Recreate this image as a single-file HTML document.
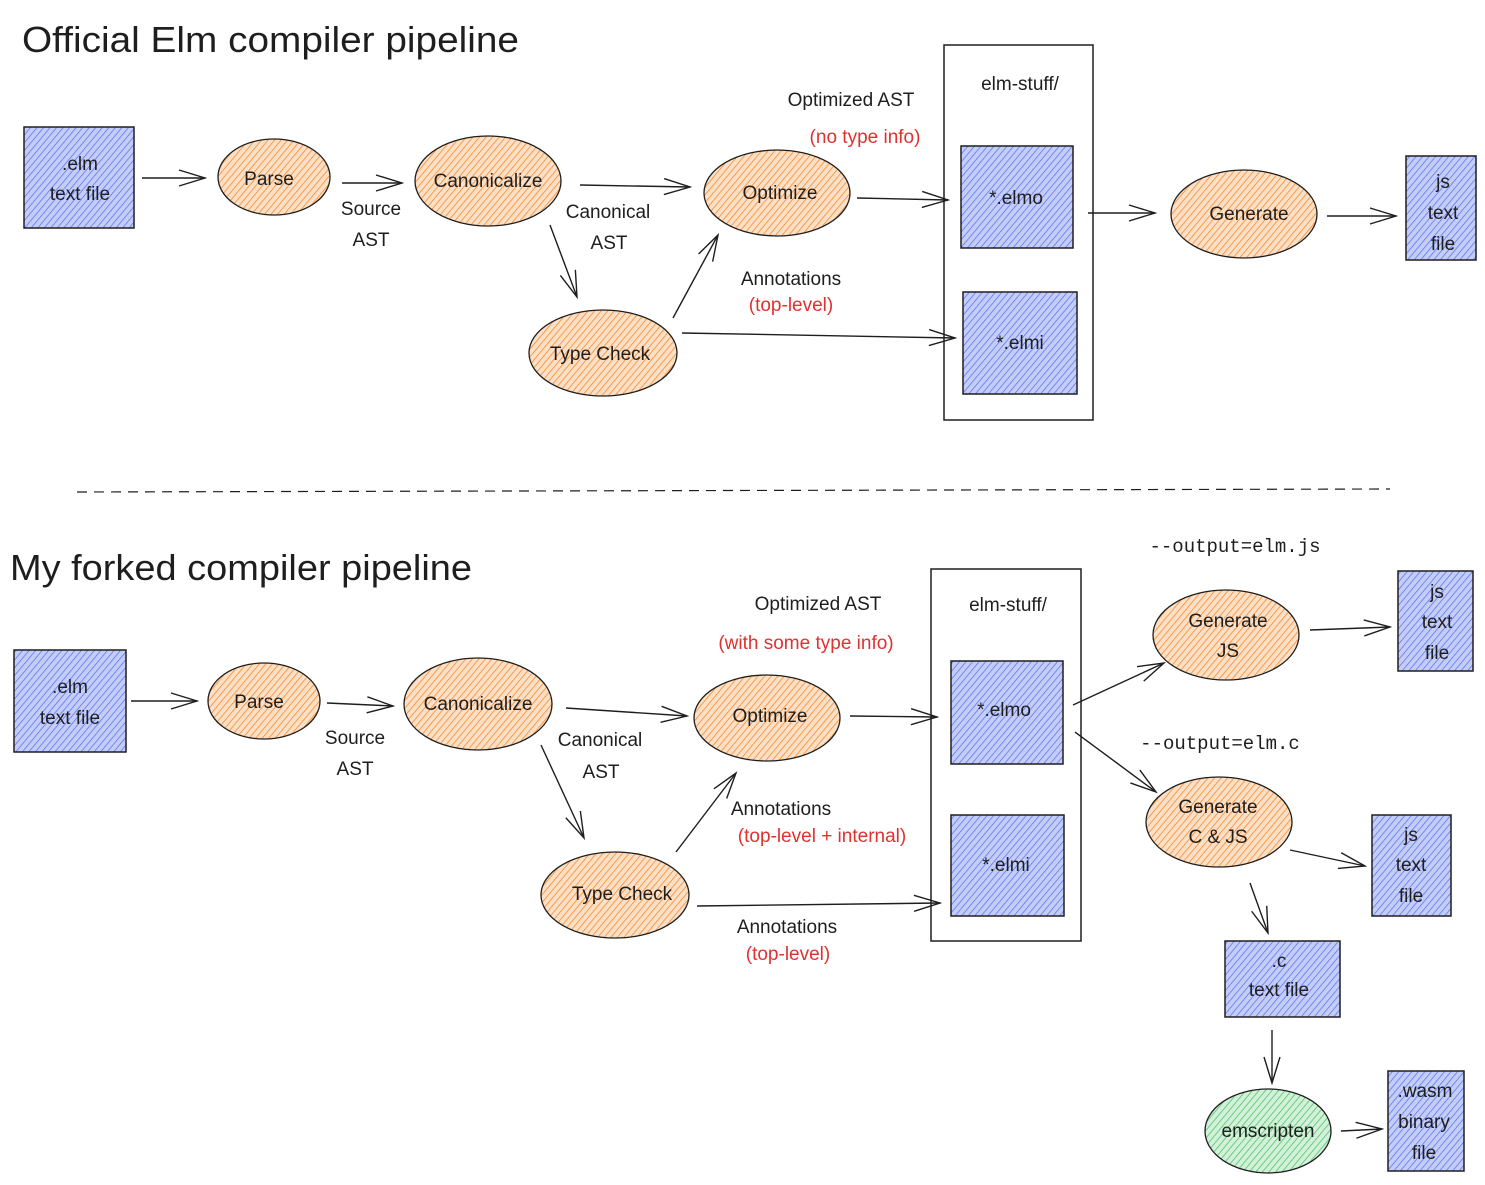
<!DOCTYPE html>
<html><head><meta charset="utf-8"><style>
html,body{margin:0;padding:0;background:#fff}
svg{display:block}
text{font-family:"Liberation Sans",sans-serif;fill:#1e1e1e;text-anchor:middle}
.t{font-size:36px;text-anchor:start}
.l{font-size:19px}
.r{fill:#e03131}
.m{font-family:"Liberation Mono",monospace;font-size:19px}
.b{fill:url(#hb);stroke:#1e1e1e;stroke-width:1.5}
.o{fill:url(#ho);stroke:#1e1e1e;stroke-width:1.3}
.g{fill:url(#hg);stroke:#1e1e1e;stroke-width:1.3}
.a{stroke:#1e1e1e;stroke-width:1.4;fill:none;marker-end:url(#ar)}
</style></head><body>
<svg width="1485" height="1185" viewBox="0 0 1485 1185" xmlns="http://www.w3.org/2000/svg">
<defs>
<pattern id="hb" width="5" height="5" patternUnits="userSpaceOnUse" patternTransform="rotate(40)"><rect width="5" height="5" fill="#c5cdf7"/><line x1="0" y1="0" x2="0" y2="5" stroke="#4c6ef5" stroke-width="1.4"/></pattern>
<pattern id="ho" width="5" height="5" patternUnits="userSpaceOnUse" patternTransform="rotate(40)"><rect width="5" height="5" fill="#fbe0c8"/><line x1="0" y1="0" x2="0" y2="5" stroke="#fd7e14" stroke-width="1.4"/></pattern>
<pattern id="hg" width="5" height="5" patternUnits="userSpaceOnUse" patternTransform="rotate(40)"><rect width="5" height="5" fill="#d3f0da"/><line x1="0" y1="0" x2="0" y2="5" stroke="#40c057" stroke-width="1.4"/></pattern>
<marker id="ar" markerWidth="30" markerHeight="20" refX="28" refY="10" orient="auto" markerUnits="userSpaceOnUse"><path d="M2,2 L28,10 L2,18" fill="none" stroke="#1e1e1e" stroke-width="1.4"/></marker>
</defs>

<text class="t" x="22" y="52" textLength="497" lengthAdjust="spacingAndGlyphs">Official Elm compiler pipeline</text>
<rect class="b" x="24" y="127" width="110" height="101"/>
<text class="l" x="80" y="170">.elm</text><text class="l" x="80" y="200">text file</text>
<path class="a" d="M142,178 L205,178"/>
<ellipse class="o" cx="274" cy="177" rx="56" ry="38"/><text class="l" x="269" y="185">Parse</text>
<path class="a" d="M342,183 L402,183"/>
<text class="l" x="371" y="215">Source</text><text class="l" x="371" y="246">AST</text>
<ellipse class="o" cx="488" cy="181" rx="73" ry="45"/><text class="l" x="488" y="187">Canonicalize</text>
<path class="a" d="M580,185 L690,187"/>
<text class="l" x="608" y="218">Canonical</text><text class="l" x="609" y="249">AST</text>
<path class="a" d="M550,225 L577,297"/>
<ellipse class="o" cx="603" cy="353" rx="74" ry="43"/><text class="l" x="600" y="360">Type Check</text>
<path class="a" d="M673,318 L718,235"/>
<ellipse class="o" cx="777" cy="193" rx="73" ry="43"/><text class="l" x="780" y="199">Optimize</text>
<text class="l" x="851" y="106">Optimized AST</text><text class="l r" x="865" y="143">(no type info)</text>
<path class="a" d="M857,198 L948,200"/>
<text class="l" x="791" y="285">Annotations</text><text class="l r" x="791" y="311">(top-level)</text>
<path class="a" d="M682,333 L955,338"/>
<rect x="944" y="45" width="149" height="375" fill="none" stroke="#1e1e1e" stroke-width="1.5"/>
<text class="l" x="1020" y="90">elm-stuff/</text>
<rect class="b" x="961" y="146" width="112" height="102"/><text class="l" x="1016" y="204">*.elmo</text>
<rect class="b" x="963" y="292" width="114" height="102"/><text class="l" x="1020" y="349">*.elmi</text>
<path class="a" d="M1088,213 L1155,213"/>
<ellipse class="o" cx="1244" cy="214" rx="73" ry="44"/><text class="l" x="1249" y="220">Generate</text>
<path class="a" d="M1327,216 L1396,216"/>
<rect class="b" x="1406" y="156" width="70" height="104"/>
<text class="l" x="1443" y="188">js</text><text class="l" x="1443" y="219">text</text><text class="l" x="1443" y="250">file</text>

<line x1="77" y1="492" x2="1390" y2="489" stroke="#1e1e1e" stroke-width="1.2" stroke-dasharray="10,7"/>

<text class="t" x="10" y="580" textLength="462" lengthAdjust="spacingAndGlyphs">My forked compiler pipeline</text>
<rect class="b" x="14" y="650" width="112" height="102"/>
<text class="l" x="70" y="693">.elm</text><text class="l" x="70" y="724">text file</text>
<path class="a" d="M131,701 L197,701"/>
<ellipse class="o" cx="264" cy="701" rx="56" ry="38"/><text class="l" x="259" y="708">Parse</text>
<path class="a" d="M327,703 L393,706"/>
<text class="l" x="355" y="744">Source</text><text class="l" x="355" y="775">AST</text>
<ellipse class="o" cx="478" cy="704" rx="74" ry="46"/><text class="l" x="478" y="710">Canonicalize</text>
<path class="a" d="M566,708 L687,716"/>
<text class="l" x="600" y="746">Canonical</text><text class="l" x="601" y="778">AST</text>
<path class="a" d="M541,745 L584,838"/>
<ellipse class="o" cx="615" cy="895" rx="74" ry="43"/><text class="l" x="622" y="900">Type Check</text>
<path class="a" d="M676,852 L736,773"/>
<ellipse class="o" cx="767" cy="718" rx="73" ry="43"/><text class="l" x="770" y="722">Optimize</text>
<text class="l" x="818" y="610">Optimized AST</text><text class="l r" x="806" y="649">(with some type info)</text>
<path class="a" d="M850,716 L937,717"/>
<text class="l" x="781" y="815">Annotations</text><text class="l r" x="822" y="842">(top-level + internal)</text>
<path class="a" d="M697,906 L940,903"/>
<text class="l" x="787" y="933">Annotations</text><text class="l r" x="788" y="960">(top-level)</text>
<rect x="931" y="569" width="150" height="372" fill="none" stroke="#1e1e1e" stroke-width="1.5"/>
<text class="l" x="1008" y="611">elm-stuff/</text>
<rect class="b" x="951" y="661" width="112" height="103"/><text class="l" x="1004" y="716">*.elmo</text>
<rect class="b" x="951" y="815" width="113" height="101"/><text class="l" x="1006" y="871">*.elmi</text>
<text class="m" x="1235" y="552">--output=elm.js</text>
<path class="a" d="M1073,705 L1164,663"/>
<ellipse class="o" cx="1226" cy="635" rx="73" ry="45"/>
<text class="l" x="1228" y="627">Generate</text><text class="l" x="1228" y="657">JS</text>
<path class="a" d="M1310,630 L1390,627"/>
<rect class="b" x="1398" y="571" width="75" height="100"/>
<text class="l" x="1437" y="598">js</text><text class="l" x="1437" y="628">text</text><text class="l" x="1437" y="659">file</text>
<text class="m" x="1220" y="749">--output=elm.c</text>
<path class="a" d="M1075,732 L1156,792"/>
<ellipse class="o" cx="1219" cy="822" rx="73" ry="45"/>
<text class="l" x="1218" y="813">Generate</text><text class="l" x="1218" y="843">C &amp; JS</text>
<path class="a" d="M1290,850 L1365,866"/>
<rect class="b" x="1372" y="815" width="79" height="101"/>
<text class="l" x="1411" y="841">js</text><text class="l" x="1411" y="871">text</text><text class="l" x="1411" y="902">file</text>
<path class="a" d="M1250,883 L1268,933"/>
<rect class="b" x="1225" y="941" width="115" height="76"/>
<text class="l" x="1279" y="967">.c</text><text class="l" x="1279" y="996">text file</text>
<path class="a" d="M1272,1030 L1272,1083"/>
<ellipse class="g" cx="1268" cy="1131" rx="63" ry="42"/><text class="l" x="1268" y="1137">emscripten</text>
<path class="a" d="M1341,1131 L1382,1129"/>
<rect class="b" x="1388" y="1071" width="76" height="100"/>
<text class="l" x="1425" y="1097">.wasm</text><text class="l" x="1424" y="1128">binary</text><text class="l" x="1424" y="1159">file</text>
</svg>
</body></html>
